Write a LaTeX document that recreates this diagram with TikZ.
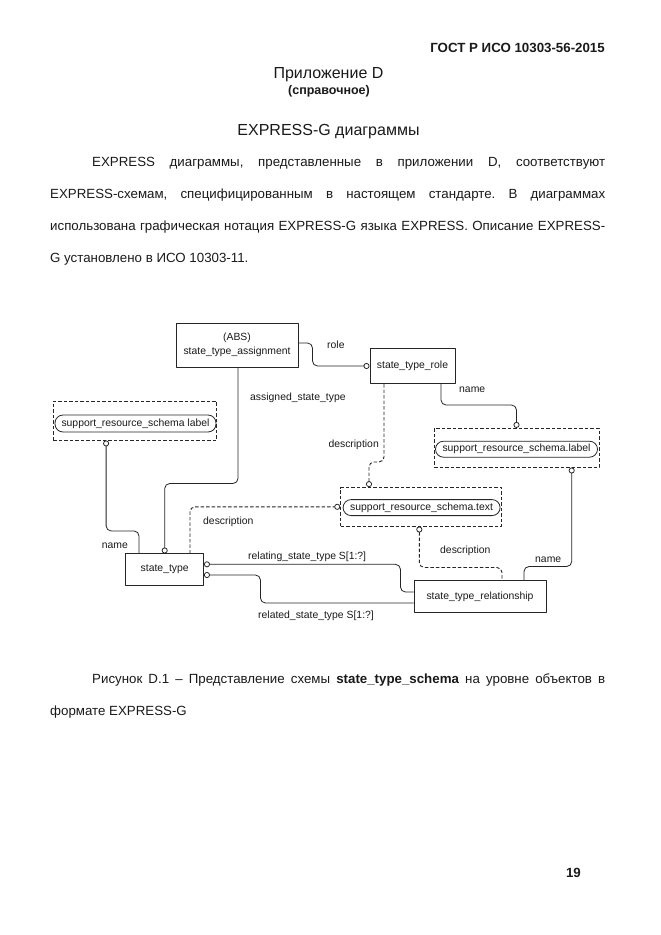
\documentclass[tikz,border=0pt]{standalone}
\usepackage{fontspec}
\setmainfont{Liberation Sans}
\usepackage{xcolor}
\usepackage{tikz}
\usetikzlibrary{arrows.meta,positioning}
\definecolor{xgInk}{HTML}{1A1A1A}
\definecolor{xgLine}{HTML}{262626}
\newcommand{\xgsmall}{\fontsize{10.4}{13.5}\selectfont}
\newcommand{\xgbody}{\fontsize{13.3}{32}\selectfont}
\tolerance=10000
\hbadness=10000
\frenchspacing
\tikzset{
  xg page/.style={x=1pt, y=-1pt, text=xgInk, line cap=round, line join=round},
  xg entity/.style={draw=xgLine, line width=1pt, fill=white, align=center,
    inner sep=0pt, font=\xgsmall},
  xg type/.style={draw=xgLine, line width=0.9pt, dash pattern=on 3.5pt off 2pt,
    line cap=butt, inner sep=0pt},
  xg pill/.style={draw=xgLine, line width=0.8pt, rounded corners=8pt,
    inner sep=0pt, font=\xgsmall},
  xg link/.style={draw=xgLine, line width=0.8pt, rounded corners=5pt},
  xg optional/.style={xg link, line width=0.9pt, dash pattern=on 3.5pt off 2pt, line cap=butt},
  xg to ring/.style={-{Circle[open,length=6pt,width=6pt,line width=0.8pt]}},
  xg from ring/.style={{Circle[open,length=6pt,width=6pt,line width=0.8pt]}-},
  xg label/.style={font=\xgsmall, inner sep=0pt, anchor=west},
  xg text/.style={font=\xgbody, inner sep=0pt}
}

\begin{document}
\begin{tikzpicture}[xg page]
\fill[white] (0,0) rectangle (661,935);
\useasboundingbox (0,0) rectangle (661,935);

% page text
\node[xg text, font=\bfseries\xgbody, anchor=base east] (gost) at (605,52) {ГОСТ Р ИСО 10303-56-2015};
\node[font=\fontsize{16}{19}\selectfont, inner sep=0pt, anchor=base] (annex) at (328.5,78.5) {Приложение D};
\node[font=\bfseries\fontsize{12.5}{16}\selectfont, inner sep=0pt, anchor=base] (annexkind) at (329,94.5) {(справочное)};
\node[font=\fontsize{16}{19}\selectfont, inner sep=0pt, anchor=base] (title) at (328.5,135.5) {EXPRESS-G диаграммы};
\node[xg text, anchor=north west, text width=555pt, align=justify] (intro) at (50,157)
  {\hspace*{42pt}EXPRESS диаграммы, представленные в приложении D, соответствуют\linebreak
   EXPRESS-схемам, специфицированным в настоящем стандарте. В диаграммах\linebreak
   использована графическая нотация EXPRESS-G языка EXPRESS. Описание EXPRESS-\linebreak
   G установлено в ИСО 10303-11.};
\node[xg text, anchor=north west, text width=555pt, align=justify] (caption) at (50,674)
  {\hspace*{42pt}Рисунок D.1 -- Представление схемы \textbf{state\_type\_schema} на уровне объектов в\linebreak
   формате EXPRESS-G};
\node[xg text, font=\bfseries\xgbody, anchor=base east] (pageno) at (581,877) {19};

% entities
\node[xg entity, minimum width=122pt, minimum height=44pt] (assign) at (237,345) {(ABS)\\state\_type\_assignment};
\node[xg entity, minimum width=85pt, minimum height=35pt] (role) at (412.5,366) {state\_type\_role};
\node[xg entity, minimum width=77.5pt, minimum height=31.5pt] (sttype) at (164.7,569.7) {state\_type};
\node[xg entity, minimum width=132pt, minimum height=31.5pt] (rel) at (480,596.6) {state\_type\_relationship};

% referenced types
\node[xg type, minimum width=163.5pt, minimum height=39pt] (lblA) at (134.8,420.5) {};
\node[xg pill, minimum width=161pt, minimum height=17pt] (lblAname) at (135.5,423.5) {support\_resource\_schema label};
\node[xg type, minimum width=165pt, minimum height=38.7pt] (lblB) at (516.5,447.7) {};
\node[xg pill, minimum width=162pt, minimum height=16pt] (lblBname) at (516.5,449.2) {support\_resource\_schema.label};
\node[xg type, minimum width=161pt, minimum height=38.5pt] (txt) at (421.2,506.8) {};
\node[xg pill, minimum width=157pt, minimum height=16pt] (txtname) at (421.6,507.6) {support\_resource\_schema.text};

% attributes
\draw[xg link, xg to ring] ([yshift=2pt]assign.east) -- ++(14,0) |- (role.west);
\draw[xg link, xg to ring] ([xshift=1pt]assign.south) -- ++(0,116) -| (sttype.north);
\draw[xg link, xg from ring] ([xshift=-28.7pt]lblA.south) -- ++(0,90.5) -| ([xshift=-25.7pt]sttype.north);
\draw[xg optional, xg to ring] ([xshift=25.3pt]sttype.north) |- (txt.west);
\draw[xg link, xg from ring] ([yshift=5.4pt]sttype.east) -- ++(196.5,0) |- ([yshift=4.6pt]rel.west);
\draw[xg link, xg from ring] ([yshift=-5.3pt]sttype.east) -- ++(56.5,0) |- ([yshift=-6.4pt]rel.west);
\draw[xg link, xg to ring] ([xshift=28.5pt]role.south) -- ++(0,21) -| (lblB.north);
\draw[xg optional, xg to ring] ([xshift=-28.5pt]role.south) -- ++(0,78) -| ([xshift=-52.2pt]txt.north);
\draw[xg optional, xg from ring] ([xshift=-1.9pt]txt.south) -- ++(0,41) -| ([xshift=22pt]rel.north);
\draw[xg link, xg from ring] ([xshift=55.2pt]lblB.south) -- ++(0,99) -| ([xshift=44pt]rel.north);

% attribute labels
\node[xg label] (roleL) at (327,345) {role};
\node[xg label] (assignL) at (250,398) {assigned\_state\_type};
\node[xg label] (nameA) at (101.7,546) {name};
\node[xg label] (descA) at (203,522) {description};
\node[xg label] (relatingL) at (248,556.7) {relating\_state\_type S[1:?]};
\node[xg label] (relatedL) at (258,615.7) {related\_state\_type S[1:?]};
\node[xg label] (nameB) at (459,390) {name};
\node[xg label, anchor=east] (descB) at (379,445) {description};
\node[xg label] (descC) at (440,551) {description};
\node[xg label] (nameC) at (535,560) {name};
\end{tikzpicture}
\end{document}
